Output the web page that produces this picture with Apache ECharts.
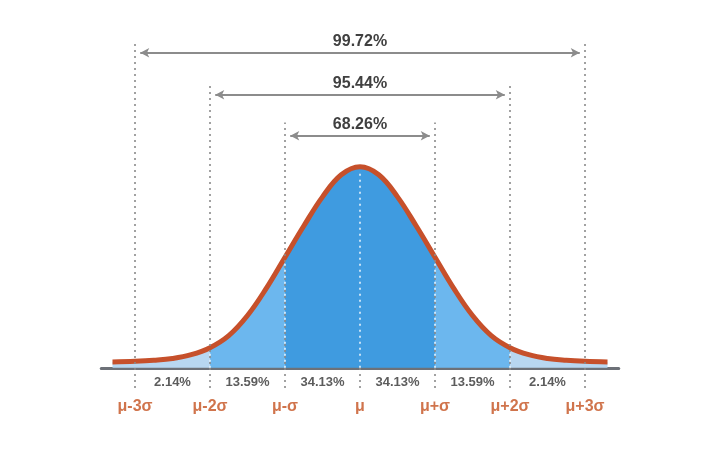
<!DOCTYPE html>
<html lang="en">
<head>
    <meta charset="UTF-8">
    <title>normal distribution</title>
    <script src="https://cdn.jsdelivr.net/npm/echarts@6/dist/echarts.min.js"></script>
    <style>
        html, body { margin: 0; padding: 0; background: #fff; }
        #main { width: 720px; height: 450px; }
    </style>
</head>
<body>
    <div id="main"></div>
    <script>
        // curve: x in sigma units, height relative to peak = 100
        var curveX = [-3.3, -3, -2.75, -2.5, -2.25, -2, -1.75, -1.5, -1.25, -1, -0.75, -0.5, -0.25, 0,
                      0.25, 0.5, 0.75, 1, 1.25, 1.5, 1.75, 2, 2.25, 2.5, 2.75, 3, 3.3];
        var curveY = [2.9, 3.2, 3.7, 4.6, 6.5, 10, 16, 26, 39.5, 55, 70.5, 85, 96, 100,
                      96, 85, 70.5, 55, 39.5, 26, 16, 10, 6.5, 4.6, 3.7, 3.2, 2.9];
        // sigma marks
        var sigmaX = [-3, -2, -1, 0, 1, 2, 3];
        var sigmaLabels = ['μ-3σ', 'μ-2σ', 'μ-σ', 'μ', 'μ+σ', 'μ+2σ', 'μ+3σ'];
        var guideTop = [163, 142, 122, 0, 122, 142, 163];
        // share in each band
        var bandX = [-2.5, -1.5, -0.5, 0.5, 1.5, 2.5];
        var bandLabels = ['2.14%', '13.59%', '34.13%', '34.13%', '13.59%', '2.14%'];
        // range arrows
        var rangeLabels = ['99.72%', '95.44%', '68.26%'];
        var rangeHalf = [2.93, 1.93, 0.93];
        var rangeY = [156.7, 135.8, 115.4];

        var curveData = curveX.map(function (x, i) { return [x, curveY[i]]; });
        function heightAt(x) {
            return curveY[curveX.indexOf(x)];
        }

        // gray dotted guides (behind the area)
        var grayLines = [];
        sigmaX.forEach(function (x, i) {
            grayLines.push([{ coord: [x, -10] }, { coord: [x, x === 0 ? 0 : guideTop[i]] }]);
        });
        // white dotted guides inside the area
        var whiteLines = [-2, -1, 0, 1, 2].map(function (x) {
            return [{ coord: [x, 0] }, { coord: [x, heightAt(x) - 2] }];
        });
        // arrows
        var arrowLines = rangeLabels.map(function (t, i) {
            return [{ coord: [-rangeHalf[i], rangeY[i]], name: t }, { coord: [rangeHalf[i], rangeY[i]] }];
        });

        var textData = [];
        bandX.forEach(function (x, i) {
            textData.push({ value: [x, -7.5], name: bandLabels[i],
                label: { color: '#333333', fontSize: 13, fontWeight: 'bold' } });
        });
        sigmaX.forEach(function (x, i) {
            textData.push({ value: [x, -19.4], name: sigmaLabels[i],
                label: { color: '#c4511f', fontSize: 16, fontWeight: 'bold' } });
        });

        var chart = echarts.init(document.getElementById('main'));
        var option = {
            animation: false,
            backgroundColor: '#fff',
            grid: { left: 101.25, right: 101.25, top: 26, bottom: 42 },
            xAxis: {
                type: 'value', min: -3.45, max: 3.45,
                axisLine: { onZero: true, lineStyle: { color: '#6d7178', width: 3 } },
                axisTick: { show: false }, axisLabel: { show: false }, splitLine: { show: false }
            },
            yAxis: { type: 'value', min: -20, max: 170, show: false },
            visualMap: {
                show: false, type: 'piecewise', dimension: 0, seriesIndex: 1,
                pieces: [
                    { lt: -2, color: '#b8d7f1' },
                    { gte: -2, lt: -1, color: '#6cb7ee' },
                    { gte: -1, lt: 1, color: '#3f9be0' },
                    { gte: 1, lt: 2, color: '#6cb7ee' },
                    { gte: 2, color: '#b8d7f1' }
                ]
            },
            series: [
                {
                    // gray guides behind everything
                    type: 'line', data: [], z: 1,
                    markLine: {
                        silent: true, symbol: 'none',
                        label: { show: false },
                        lineStyle: { color: '#8a8a8a', width: 1.6, type: [2, 4] },
                        data: grayLines
                    }
                },
                {
                    type: 'line', data: curveData, smooth: 0.4, symbol: 'none', z: 2,
                    lineStyle: { width: 0 },
                    areaStyle: { opacity: 1 },
                    markLine: {
                        silent: true, symbol: 'none',
                        label: { show: false },
                        lineStyle: { color: '#e6f2fc', width: 1.6, type: [2, 4] },
                        data: whiteLines
                    }
                },
                {
                    type: 'line', data: curveData, smooth: 0.4, symbol: 'none', z: 4,
                    lineStyle: { color: '#c6502b', width: 5 },
                    markLine: {
                        silent: true, symbol: ['arrow', 'arrow'], symbolSize: [7, 9],
                        lineStyle: { color: '#8c8c8c', width: 2, type: 'solid' },
                        label: {
                            show: true, position: 'insideMiddleTop', distance: 3,
                            formatter: '{b}', color: '#404040',
                            fontSize: 16, fontWeight: 'bold', fontFamily: 'Arial'
                        },
                        data: arrowLines
                    }
                },
                {
                    type: 'scatter', data: textData, symbolSize: 0, z: 5, silent: true,
                    label: { show: true, position: 'inside', formatter: '{b}', fontFamily: 'Arial' }
                }
            ]
        };
        chart.setOption(option);
    </script>
</body>
</html>
